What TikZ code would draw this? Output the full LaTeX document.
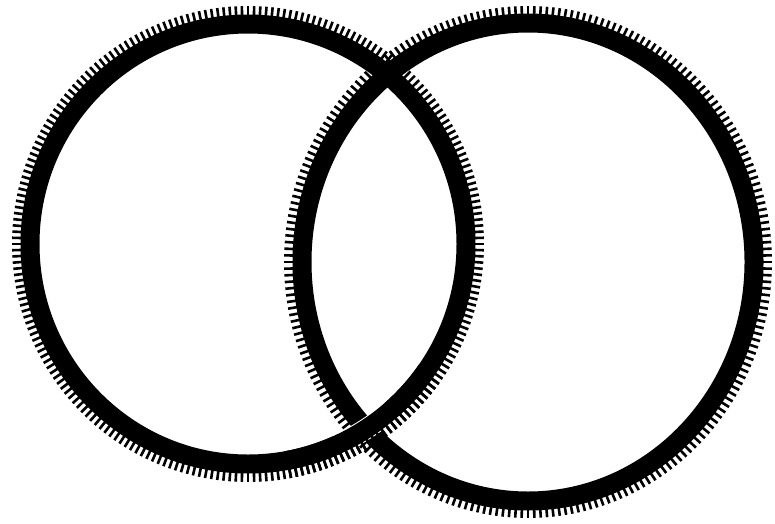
\documentclass[tikz,border=0pt]{standalone}
\usetikzlibrary{calc}

\begin{document}
\begin{tikzpicture}[x=1pt, y=-1pt]
  \tikzset{band/.style={line width=19pt},
    tooth/.style={line width=2.6pt},
    gap/.style={white, line width=21pt}}
  \useasboundingbox (0,0) rectangle (775,523);

  % left ring
  \coordinate (L) at (248,244);
  \draw[band] (L) ellipse [x radius=218pt, y radius=220pt];
  \foreach \a in {0,1.5,...,358.5}
    \draw[tooth] ({248+225*cos(\a)},{244+227*sin(\a)}) -- ({248+236*cos(\a)},{244+238*sin(\a)});

  % right ring, over the left one at the top
  \coordinate (R) at (528,262);
  \draw[band] (R) ellipse [x radius=226pt, y radius=239pt];
  \foreach \a in {0,1.5,...,358.5}
    \draw[tooth] ({528+233*cos(\a)},{262+246*sin(\a)}) -- ({528+244*cos(\a)},{262+256*sin(\a)});

  % left ring again, over the right one at the bottom
  \draw[gap] plot[domain=49:66, samples=20] ({248+218*cos(\x)},{244+220*sin(\x)});
  \draw[band] plot[domain=35:80, samples=40] ({248+218*cos(\x)},{244+220*sin(\x)});
  \foreach \a in {36,37.5,...,80}
    \draw[tooth] ({248+225*cos(\a)},{244+227*sin(\a)}) -- ({248+236*cos(\a)},{244+238*sin(\a)});
\end{tikzpicture}
\end{document}
